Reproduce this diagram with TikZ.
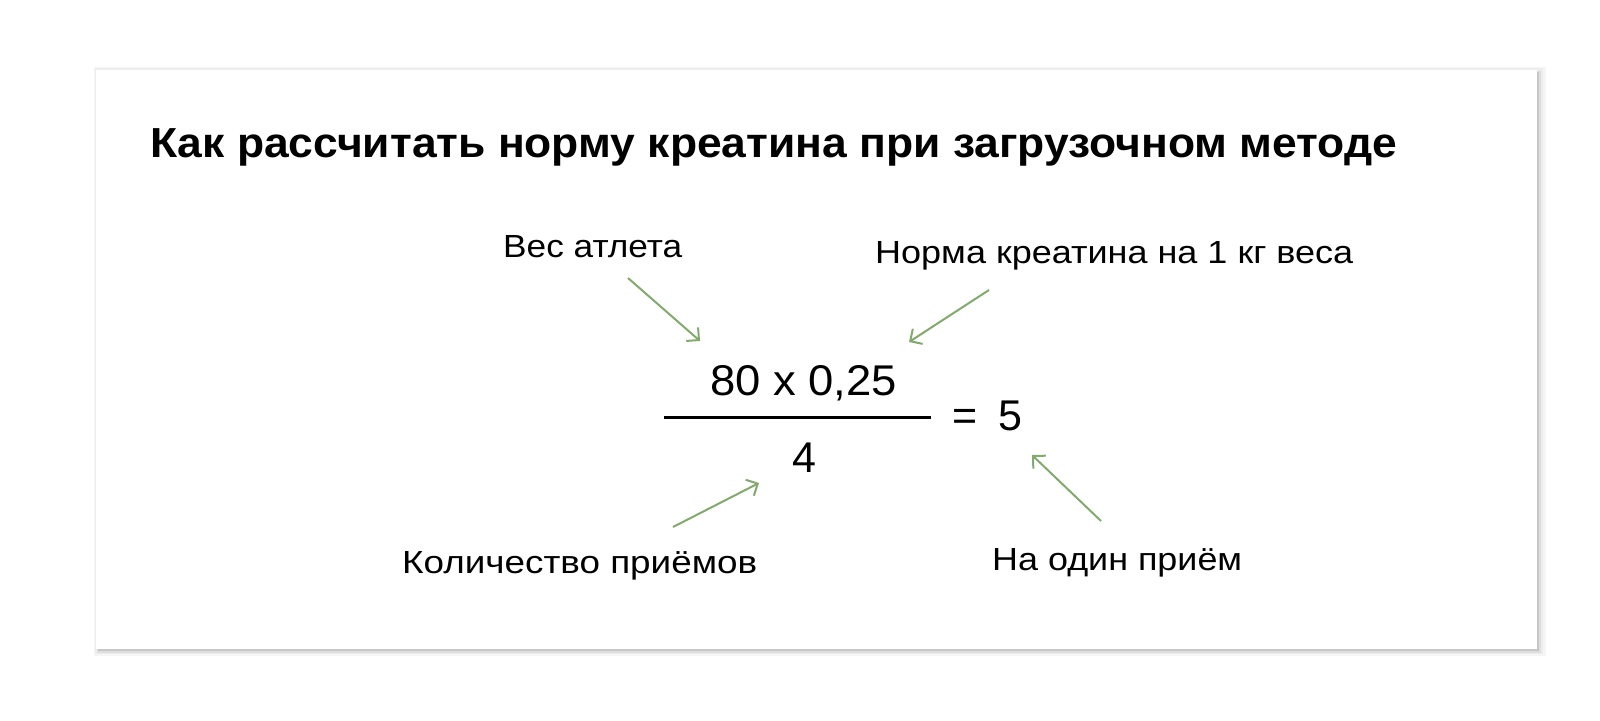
\documentclass[tikz,border=0pt]{standalone}
\usepackage{fontspec}
\usepackage{graphicx}
\setmainfont{Liberation Sans}
\usetikzlibrary{arrows.meta}
\definecolor{arrowgreen}{RGB}{130,170,110}
\newcommand\fitw[2]{\resizebox{#1}{\height}{#2}}
\begin{document}
\begin{tikzpicture}[x=1pt,y=-1pt,
  lbl/.style={font=\fontsize{32}{38}\selectfont, inner sep=0pt, anchor=base west},
  frm/.style={font=\fontsize{43}{50}\selectfont, inner sep=0pt},
  arr/.style={draw=arrowgreen, line width=2pt, -{Straight Barb[length=9pt,width=18pt,line width=2pt]}}]
\useasboundingbox (0,0) rectangle (1600,720);
\fill[white] (0,0) rectangle (1600,720);
% card with shadow
\fill[black!4] (94,67) rectangle (1546,656);
\fill[black!7] (95,68) rectangle (1543,654);
\fill[black!13] (97,71) rectangle (1541,653);
\fill[black!22] (98,72) rectangle (1539,651);
\fill[white] (96,70) rectangle (1537,649);
% title
\node[inner sep=0pt, anchor=base west, font=\fontsize{42}{50}\selectfont\bfseries] (title) at (150,157) {\fitw{1247pt}{Как рассчитать норму креатина при загрузочном методе}};
% labels
\node[lbl] (ves) at (503,257) {\fitw{179pt}{Вес атлета}};
\node[lbl] (norma) at (875,263) {\fitw{478pt}{Норма креатина на 1 кг веса}};
\node[lbl] (kol) at (402,573) {\fitw{355pt}{Количество приёмов}};
\node[lbl] (odin) at (992,570) {\fitw{250pt}{На один приём}};
% formula
\node[frm, anchor=base] (num) at (803.5,395) {\fitw{187pt}{80 x 0,25}};
\node[frm, anchor=base] (den) at (804.5,472) {4};
\coordinate (fl) at (664,417);
\coordinate (fr) at (931,417);
\draw[line width=3pt] (fl) -- (fr);
\node[frm, anchor=base west] (eq) at (952,430) {=};
\node[frm, anchor=base west] (res) at (998,430) {5};
% arrows
\coordinate (a1s) at (628,278); \coordinate (a1e) at (700,341);
\coordinate (a2s) at (989,290); \coordinate (a2e) at (909,342);
\coordinate (a3s) at (673,527); \coordinate (a3e) at (759,483);
\coordinate (a4s) at (1101,521); \coordinate (a4e) at (1032,455);
\draw[arr] (a1s) -- (a1e);
\draw[arr] (a2s) -- (a2e);
\draw[arr] (a3s) -- (a3e);
\draw[arr] (a4s) -- (a4e);
\end{tikzpicture}
\end{document}
